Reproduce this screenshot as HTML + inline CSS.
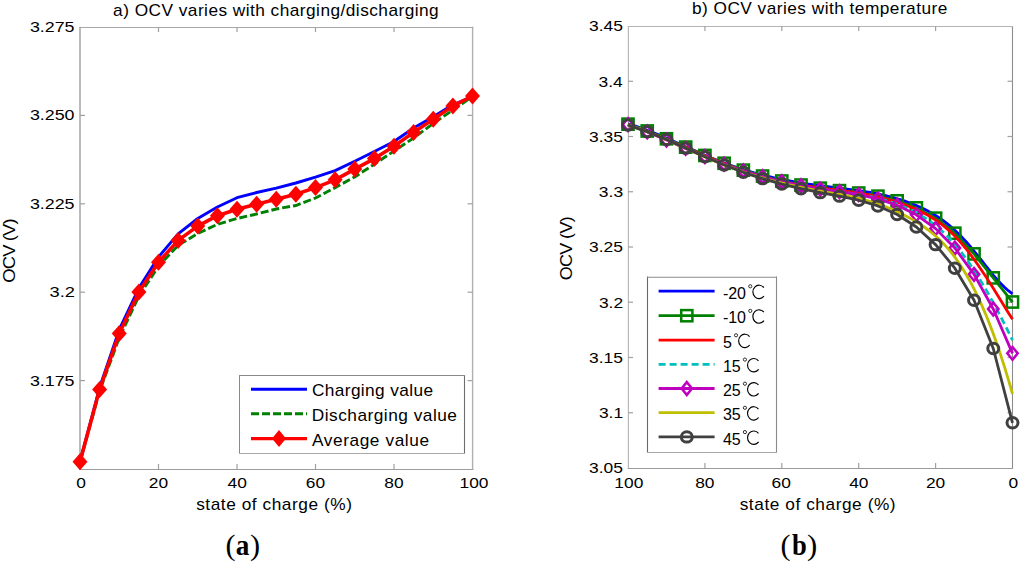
<!DOCTYPE html>
<html><head><meta charset="utf-8"><style>
html,body{margin:0;padding:0;background:#fff;}
body{width:1024px;height:563px;overflow:hidden;}
svg{display:block;}
</style></head><body>
<svg width="1024" height="563" viewBox="0 0 1024 563">
<rect width="1024" height="563" fill="#fff"/>
<line x1="80" y1="26.8" x2="80" y2="470" stroke="#a4a4a4" stroke-width="1.5"/>
<line x1="472.6" y1="26.8" x2="472.6" y2="470" stroke="#b0b0b0" stroke-width="1.4"/>
<line x1="79.3" y1="27.5" x2="473.3" y2="27.5" stroke="#a8a8a8" stroke-width="1.0"/>
<line x1="79.3" y1="469.5" x2="473.3" y2="469.5" stroke="#9c9c9c" stroke-width="1.1"/>
<line x1="158.50" y1="469" x2="158.50" y2="464" stroke="#a0a0a0" stroke-width="1.2"/>
<line x1="158.50" y1="27" x2="158.50" y2="32" stroke="#a0a0a0" stroke-width="1.2"/>
<line x1="237.00" y1="469" x2="237.00" y2="464" stroke="#a0a0a0" stroke-width="1.2"/>
<line x1="237.00" y1="27" x2="237.00" y2="32" stroke="#a0a0a0" stroke-width="1.2"/>
<line x1="315.50" y1="469" x2="315.50" y2="464" stroke="#a0a0a0" stroke-width="1.2"/>
<line x1="315.50" y1="27" x2="315.50" y2="32" stroke="#a0a0a0" stroke-width="1.2"/>
<line x1="394.00" y1="469" x2="394.00" y2="464" stroke="#a0a0a0" stroke-width="1.2"/>
<line x1="394.00" y1="27" x2="394.00" y2="32" stroke="#a0a0a0" stroke-width="1.2"/>
<line x1="80" y1="380.60" x2="85" y2="380.60" stroke="#a0a0a0" stroke-width="1.2"/>
<line x1="472.5" y1="380.60" x2="467.5" y2="380.60" stroke="#a0a0a0" stroke-width="1.2"/>
<line x1="80" y1="292.20" x2="85" y2="292.20" stroke="#a0a0a0" stroke-width="1.2"/>
<line x1="472.5" y1="292.20" x2="467.5" y2="292.20" stroke="#a0a0a0" stroke-width="1.2"/>
<line x1="80" y1="203.80" x2="85" y2="203.80" stroke="#a0a0a0" stroke-width="1.2"/>
<line x1="472.5" y1="203.80" x2="467.5" y2="203.80" stroke="#a0a0a0" stroke-width="1.2"/>
<line x1="80" y1="115.40" x2="85" y2="115.40" stroke="#a0a0a0" stroke-width="1.2"/>
<line x1="472.5" y1="115.40" x2="467.5" y2="115.40" stroke="#a0a0a0" stroke-width="1.2"/>
<polyline points="80.00,461.70 99.62,387.50 119.25,329.70 138.88,288.10 158.50,257.00 178.12,233.90 197.75,218.50 217.38,207.00 237.00,197.70 256.62,192.50 276.25,188.20 295.88,183.00 315.50,177.20 335.12,170.60 354.75,161.20 374.38,151.50 394.00,141.50 413.62,128.00 433.25,116.70 452.88,104.80 472.50,96.50" fill="none" stroke="#0000ff" stroke-width="2.9" stroke-linejoin="round"/>
<polyline points="80.00,461.70 99.62,391.00 119.25,337.80 138.88,296.20 158.50,266.20 178.12,245.40 197.75,233.50 217.38,224.30 237.00,218.50 256.62,214.00 276.25,209.00 295.88,205.50 315.50,198.00 335.12,187.60 354.75,176.90 374.38,164.20 394.00,151.00 413.62,138.00 433.25,123.50 452.88,110.00 472.50,96.50" fill="none" stroke="#008000" stroke-width="2.9" stroke-dasharray="8 3"/>
<polyline points="80.00,461.70 99.62,389.40 119.25,333.50 138.88,292.00 158.50,262.30 178.12,240.40 197.75,226.10 217.38,215.70 237.00,209.20 256.62,204.20 276.25,199.30 295.88,194.20 315.50,187.60 335.12,179.80 354.75,169.10 374.38,158.60 394.00,146.20 413.62,132.40 433.25,119.20 452.88,106.10 472.50,96.00" fill="none" stroke="#ff0000" stroke-width="3.6" stroke-linejoin="round"/>
<polygon points="80.00,453.20 87.50,461.70 80.00,470.20 72.50,461.70" fill="#ff0000"/>
<polygon points="99.62,380.90 107.12,389.40 99.62,397.90 92.12,389.40" fill="#ff0000"/>
<polygon points="119.25,325.00 126.75,333.50 119.25,342.00 111.75,333.50" fill="#ff0000"/>
<polygon points="138.88,283.50 146.38,292.00 138.88,300.50 131.38,292.00" fill="#ff0000"/>
<polygon points="158.50,253.80 166.00,262.30 158.50,270.80 151.00,262.30" fill="#ff0000"/>
<polygon points="178.12,231.90 185.62,240.40 178.12,248.90 170.62,240.40" fill="#ff0000"/>
<polygon points="197.75,217.60 205.25,226.10 197.75,234.60 190.25,226.10" fill="#ff0000"/>
<polygon points="217.38,207.20 224.88,215.70 217.38,224.20 209.88,215.70" fill="#ff0000"/>
<polygon points="237.00,200.70 244.50,209.20 237.00,217.70 229.50,209.20" fill="#ff0000"/>
<polygon points="256.62,195.70 264.12,204.20 256.62,212.70 249.12,204.20" fill="#ff0000"/>
<polygon points="276.25,190.80 283.75,199.30 276.25,207.80 268.75,199.30" fill="#ff0000"/>
<polygon points="295.88,185.70 303.38,194.20 295.88,202.70 288.38,194.20" fill="#ff0000"/>
<polygon points="315.50,179.10 323.00,187.60 315.50,196.10 308.00,187.60" fill="#ff0000"/>
<polygon points="335.12,171.30 342.62,179.80 335.12,188.30 327.62,179.80" fill="#ff0000"/>
<polygon points="354.75,160.60 362.25,169.10 354.75,177.60 347.25,169.10" fill="#ff0000"/>
<polygon points="374.38,150.10 381.88,158.60 374.38,167.10 366.88,158.60" fill="#ff0000"/>
<polygon points="394.00,137.70 401.50,146.20 394.00,154.70 386.50,146.20" fill="#ff0000"/>
<polygon points="413.62,123.90 421.12,132.40 413.62,140.90 406.12,132.40" fill="#ff0000"/>
<polygon points="433.25,110.70 440.75,119.20 433.25,127.70 425.75,119.20" fill="#ff0000"/>
<polygon points="452.88,97.60 460.38,106.10 452.88,114.60 445.38,106.10" fill="#ff0000"/>
<polygon points="472.50,87.50 480.00,96.00 472.50,104.50 465.00,96.00" fill="#ff0000"/>
<text transform="translate(29.89,32.00) scale(1.1517,1)" font-size="15.5" letter-spacing="0.000" font-family='"Liberation Sans", sans-serif' font-weight="normal" fill="#000" >3.275</text>
<text transform="translate(29.89,120.40) scale(1.1517,1)" font-size="15.5" letter-spacing="0.000" font-family='"Liberation Sans", sans-serif' font-weight="normal" fill="#000" >3.250</text>
<text transform="translate(29.89,208.80) scale(1.1517,1)" font-size="15.5" letter-spacing="0.000" font-family='"Liberation Sans", sans-serif' font-weight="normal" fill="#000" >3.225</text>
<text transform="translate(49.47,297.20) scale(1.1811,1)" font-size="15.5" letter-spacing="0.000" font-family='"Liberation Sans", sans-serif' font-weight="normal" fill="#000" >3.2</text>
<text transform="translate(29.89,385.60) scale(1.1517,1)" font-size="15.5" letter-spacing="0.000" font-family='"Liberation Sans", sans-serif' font-weight="normal" fill="#000" >3.175</text>
<text transform="translate(76.18,488.30) scale(1.1200,1)" font-size="15.5" letter-spacing="0.000" font-family='"Liberation Sans", sans-serif' font-weight="normal" fill="#000" >0</text>
<text transform="translate(148.78,488.30) scale(1.1200,1)" font-size="15.5" letter-spacing="0.000" font-family='"Liberation Sans", sans-serif' font-weight="normal" fill="#000" >20</text>
<text transform="translate(227.50,488.30) scale(1.1200,1)" font-size="15.5" letter-spacing="0.000" font-family='"Liberation Sans", sans-serif' font-weight="normal" fill="#000" >40</text>
<text transform="translate(305.78,488.30) scale(1.1200,1)" font-size="15.5" letter-spacing="0.000" font-family='"Liberation Sans", sans-serif' font-weight="normal" fill="#000" >60</text>
<text transform="translate(384.32,488.30) scale(1.1200,1)" font-size="15.5" letter-spacing="0.000" font-family='"Liberation Sans", sans-serif' font-weight="normal" fill="#000" >80</text>
<text transform="translate(459.54,488.30) scale(1.1200,1)" font-size="15.5" letter-spacing="0.000" font-family='"Liberation Sans", sans-serif' font-weight="normal" fill="#000" >100</text>
<text transform="translate(113.12,15.50) scale(1.0800,1)" font-size="16" letter-spacing="0.427" font-family='"Liberation Sans", sans-serif' font-weight="normal" fill="#000" >a) OCV varies with charging/discharging</text>
<text transform="translate(196.18,510.40) scale(1.0800,1)" font-size="16" letter-spacing="0.505" font-family='"Liberation Sans", sans-serif' font-weight="normal" fill="#000" >state of charge (%)</text>
<g transform="translate(14.9,0) rotate(-90)"><text transform="translate(-282.63,0.00) scale(1.0800,1)" font-size="17" letter-spacing="-0.800" font-family='"Liberation Sans", sans-serif' font-weight="normal" fill="#000" >OCV (V)</text></g>
<text transform="translate(225.54,554.90) scale(1.0521,1)" font-size="28.7" letter-spacing="0.000" font-family='"Liberation Serif", serif' font-weight="normal" fill="#000" >(</text>
<text transform="translate(235.78,554.60) scale(0.9397,1)" font-size="29" letter-spacing="0.000" font-family='"Liberation Serif", serif' font-weight="bold" fill="#000" >a</text>
<text transform="translate(249.99,554.90) scale(1.0587,1)" font-size="28.7" letter-spacing="0.000" font-family='"Liberation Serif", serif' font-weight="normal" fill="#000" >)</text>
<rect x="239.5" y="375.5" width="225" height="78" fill="#fff" stroke="none"/>
<line x1="239.5" y1="375" x2="239.5" y2="454" stroke="#8a8a8a" stroke-width="1"/>
<line x1="464.5" y1="375" x2="464.5" y2="454" stroke="#6e6e6e" stroke-width="1.1"/>
<line x1="239" y1="375.5" x2="465" y2="375.5" stroke="#8a8a8a" stroke-width="1"/>
<line x1="239" y1="453.5" x2="465" y2="453.5" stroke="#a8a8a8" stroke-width="1.1"/>
<line x1="251" y1="389.3" x2="307" y2="389.3" stroke="#0000ff" stroke-width="2.9"/>
<line x1="251" y1="413.7" x2="307" y2="413.7" stroke="#008000" stroke-width="2.9" stroke-dasharray="8 3"/>
<line x1="251" y1="438.6" x2="307" y2="438.6" stroke="#ff0000" stroke-width="3.2"/>
<polygon points="279.00,430.10 286.00,438.60 279.00,447.10 272.00,438.60" fill="#ff0000"/>
<text transform="translate(311.94,396.40) scale(1.0800,1)" font-size="16" letter-spacing="0.351" font-family='"Liberation Sans", sans-serif' font-weight="normal" fill="#000" >Charging value</text>
<text transform="translate(311.72,421.00) scale(1.0800,1)" font-size="16" letter-spacing="0.462" font-family='"Liberation Sans", sans-serif' font-weight="normal" fill="#000" >Discharging value</text>
<text transform="translate(311.91,445.50) scale(1.0800,1)" font-size="16" letter-spacing="0.548" font-family='"Liberation Sans", sans-serif' font-weight="normal" fill="#000" >Average value</text>
<line x1="628.4" y1="26" x2="628.4" y2="469" stroke="#b8b8b8" stroke-width="1.2"/>
<line x1="1012.5" y1="26" x2="1012.5" y2="469" stroke="#8c8c8c" stroke-width="1.1"/>
<line x1="627.8" y1="26.5" x2="1013" y2="26.5" stroke="#b4b4b4" stroke-width="1.0"/>
<line x1="627.8" y1="468.5" x2="1013" y2="468.5" stroke="#9c9c9c" stroke-width="1.1"/>
<line x1="935.60" y1="468" x2="935.60" y2="463" stroke="#a0a0a0" stroke-width="1.2"/>
<line x1="935.60" y1="26" x2="935.60" y2="31" stroke="#a0a0a0" stroke-width="1.2"/>
<line x1="858.70" y1="468" x2="858.70" y2="463" stroke="#a0a0a0" stroke-width="1.2"/>
<line x1="858.70" y1="26" x2="858.70" y2="31" stroke="#a0a0a0" stroke-width="1.2"/>
<line x1="781.80" y1="468" x2="781.80" y2="463" stroke="#a0a0a0" stroke-width="1.2"/>
<line x1="781.80" y1="26" x2="781.80" y2="31" stroke="#a0a0a0" stroke-width="1.2"/>
<line x1="704.90" y1="468" x2="704.90" y2="463" stroke="#a0a0a0" stroke-width="1.2"/>
<line x1="704.90" y1="26" x2="704.90" y2="31" stroke="#a0a0a0" stroke-width="1.2"/>
<line x1="628" y1="412.75" x2="633" y2="412.75" stroke="#a0a0a0" stroke-width="1.2"/>
<line x1="1012.5" y1="412.75" x2="1007.5" y2="412.75" stroke="#a0a0a0" stroke-width="1.2"/>
<line x1="628" y1="357.50" x2="633" y2="357.50" stroke="#a0a0a0" stroke-width="1.2"/>
<line x1="1012.5" y1="357.50" x2="1007.5" y2="357.50" stroke="#a0a0a0" stroke-width="1.2"/>
<line x1="628" y1="302.25" x2="633" y2="302.25" stroke="#a0a0a0" stroke-width="1.2"/>
<line x1="1012.5" y1="302.25" x2="1007.5" y2="302.25" stroke="#a0a0a0" stroke-width="1.2"/>
<line x1="628" y1="247.00" x2="633" y2="247.00" stroke="#a0a0a0" stroke-width="1.2"/>
<line x1="1012.5" y1="247.00" x2="1007.5" y2="247.00" stroke="#a0a0a0" stroke-width="1.2"/>
<line x1="628" y1="191.75" x2="633" y2="191.75" stroke="#a0a0a0" stroke-width="1.2"/>
<line x1="1012.5" y1="191.75" x2="1007.5" y2="191.75" stroke="#a0a0a0" stroke-width="1.2"/>
<line x1="628" y1="136.50" x2="633" y2="136.50" stroke="#a0a0a0" stroke-width="1.2"/>
<line x1="1012.5" y1="136.50" x2="1007.5" y2="136.50" stroke="#a0a0a0" stroke-width="1.2"/>
<line x1="628" y1="81.25" x2="633" y2="81.25" stroke="#a0a0a0" stroke-width="1.2"/>
<line x1="1012.5" y1="81.25" x2="1007.5" y2="81.25" stroke="#a0a0a0" stroke-width="1.2"/>
<polyline points="628.00,123.82 631.85,124.97 635.69,126.20 639.54,127.50 643.38,128.87 647.23,130.30 651.07,131.78 654.91,133.31 658.76,134.88 662.61,136.49 666.45,138.14 670.30,139.81 674.14,141.50 677.99,143.21 681.83,144.93 685.67,146.66 689.52,148.38 693.37,150.10 697.21,151.81 701.06,153.50 704.90,155.17 708.75,156.82 712.59,158.43 716.43,160.00 720.28,161.53 724.12,163.01 727.97,164.43 731.82,165.80 735.66,167.12 739.50,168.39 743.35,169.61 747.19,170.79 751.04,171.91 754.88,172.99 758.73,174.03 762.58,175.02 766.42,175.98 770.26,176.89 774.11,177.76 777.96,178.60 781.80,179.40 785.64,180.17 789.49,180.90 793.34,181.60 797.18,182.28 801.02,182.92 804.87,183.53 808.72,184.12 812.56,184.69 816.40,185.23 820.25,185.74 824.10,186.24 827.94,186.72 831.78,187.19 835.63,187.66 839.48,188.12 843.32,188.59 847.16,189.08 851.01,189.57 854.86,190.09 858.70,190.64 862.54,191.22 866.39,191.83 870.24,192.49 874.08,193.19 877.92,193.95 881.77,194.76 885.62,195.64 889.46,196.59 893.31,197.61 897.15,198.72 901.00,199.90 904.84,201.18 908.68,202.55 912.53,204.02 916.38,205.60 920.22,207.29 924.07,209.11 927.91,211.07 931.75,213.19 935.60,215.49 939.44,217.98 943.29,220.68 947.13,223.61 950.98,226.78 954.83,230.21 958.67,233.90 962.51,237.85 966.36,242.04 970.21,246.44 974.05,251.04 977.89,255.81 981.74,260.68 985.59,265.57 989.43,270.40 993.27,275.10 997.12,279.58 1000.97,283.78 1004.81,287.61 1008.65,290.99 1012.50,293.85" fill="none" stroke="#0000ff" stroke-width="2.8" stroke-linejoin="round"/>
<polyline points="628.00,124.19 647.23,130.98 666.45,138.79 685.67,147.12 704.90,155.44 724.12,163.26 743.35,170.15 762.58,176.05 781.80,181.00 801.02,185.04 820.25,188.20 839.48,190.64 858.70,193.04 877.92,196.18 897.15,200.86 916.38,207.87 935.60,218.16 954.83,233.22 974.05,253.90 993.27,277.88 1012.50,302.02" fill="none" stroke="#008000" stroke-width="2.8" stroke-linejoin="round"/>
<rect x="622.40" y="118.59" width="11.2" height="11.2" fill="none" stroke="#008000" stroke-width="2.5"/>
<rect x="641.62" y="125.38" width="11.2" height="11.2" fill="none" stroke="#008000" stroke-width="2.5"/>
<rect x="660.85" y="133.19" width="11.2" height="11.2" fill="none" stroke="#008000" stroke-width="2.5"/>
<rect x="680.07" y="141.52" width="11.2" height="11.2" fill="none" stroke="#008000" stroke-width="2.5"/>
<rect x="699.30" y="149.84" width="11.2" height="11.2" fill="none" stroke="#008000" stroke-width="2.5"/>
<rect x="718.52" y="157.66" width="11.2" height="11.2" fill="none" stroke="#008000" stroke-width="2.5"/>
<rect x="737.75" y="164.55" width="11.2" height="11.2" fill="none" stroke="#008000" stroke-width="2.5"/>
<rect x="756.98" y="170.45" width="11.2" height="11.2" fill="none" stroke="#008000" stroke-width="2.5"/>
<rect x="776.20" y="175.40" width="11.2" height="11.2" fill="none" stroke="#008000" stroke-width="2.5"/>
<rect x="795.42" y="179.44" width="11.2" height="11.2" fill="none" stroke="#008000" stroke-width="2.5"/>
<rect x="814.65" y="182.60" width="11.2" height="11.2" fill="none" stroke="#008000" stroke-width="2.5"/>
<rect x="833.88" y="185.04" width="11.2" height="11.2" fill="none" stroke="#008000" stroke-width="2.5"/>
<rect x="853.10" y="187.44" width="11.2" height="11.2" fill="none" stroke="#008000" stroke-width="2.5"/>
<rect x="872.32" y="190.58" width="11.2" height="11.2" fill="none" stroke="#008000" stroke-width="2.5"/>
<rect x="891.55" y="195.26" width="11.2" height="11.2" fill="none" stroke="#008000" stroke-width="2.5"/>
<rect x="910.77" y="202.27" width="11.2" height="11.2" fill="none" stroke="#008000" stroke-width="2.5"/>
<rect x="930.00" y="212.56" width="11.2" height="11.2" fill="none" stroke="#008000" stroke-width="2.5"/>
<rect x="949.23" y="227.62" width="11.2" height="11.2" fill="none" stroke="#008000" stroke-width="2.5"/>
<rect x="968.45" y="248.30" width="11.2" height="11.2" fill="none" stroke="#008000" stroke-width="2.5"/>
<rect x="987.67" y="272.28" width="11.2" height="11.2" fill="none" stroke="#008000" stroke-width="2.5"/>
<rect x="1006.90" y="296.42" width="11.2" height="11.2" fill="none" stroke="#008000" stroke-width="2.5"/>
<polyline points="628.00,124.61 631.85,125.94 635.69,127.31 639.54,128.71 643.38,130.15 647.23,131.62 651.07,133.13 654.91,134.65 658.76,136.20 662.61,137.78 666.45,139.37 670.30,140.98 674.14,142.60 677.99,144.23 681.83,145.87 685.67,147.52 689.52,149.16 693.37,150.81 697.21,152.46 701.06,154.10 704.90,155.73 708.75,157.35 712.59,158.96 716.43,160.55 720.28,162.13 724.12,163.68 727.97,165.20 731.82,166.70 735.66,168.17 739.50,169.60 743.35,170.99 747.19,172.33 751.04,173.62 754.88,174.85 758.73,176.03 762.58,177.14 766.42,178.18 770.26,179.16 774.11,180.08 777.96,180.94 781.80,181.75 785.64,182.52 789.49,183.23 793.34,183.91 797.18,184.55 801.02,185.15 804.87,185.73 808.72,186.28 812.56,186.81 816.40,187.33 820.25,187.83 824.10,188.32 827.94,188.81 831.78,189.30 835.63,189.79 839.48,190.30 843.32,190.81 847.16,191.35 851.01,191.91 854.86,192.50 858.70,193.12 862.54,193.78 866.39,194.48 870.24,195.23 874.08,196.03 877.92,196.88 881.77,197.80 885.62,198.78 889.46,199.83 893.31,200.95 897.15,202.16 901.00,203.45 904.84,204.82 908.68,206.29 912.53,207.86 916.38,209.53 920.22,211.31 924.07,213.23 927.91,215.30 931.75,217.55 935.60,220.01 939.44,222.71 943.29,225.65 947.13,228.86 950.98,232.34 954.83,236.11 958.67,240.19 962.51,244.56 966.36,249.22 970.21,254.14 974.05,259.34 977.89,264.77 981.74,270.43 985.59,276.27 989.43,282.26 993.27,288.36 997.12,294.53 1000.97,300.75 1004.81,306.97 1008.65,313.17 1012.50,319.30" fill="none" stroke="#ff0000" stroke-width="2.8" stroke-linejoin="round"/>
<polyline points="628.00,125.11 631.85,126.31 635.69,127.58 639.54,128.91 643.38,130.30 647.23,131.74 651.07,133.23 654.91,134.76 658.76,136.33 662.61,137.94 666.45,139.57 670.30,141.23 674.14,142.91 677.99,144.60 681.83,146.31 685.67,148.02 689.52,149.73 693.37,151.44 697.21,153.14 701.06,154.83 704.90,156.50 708.75,158.15 712.59,159.77 716.43,161.36 720.28,162.92 724.12,164.43 727.97,165.90 731.82,167.33 735.66,168.71 739.50,170.05 743.35,171.34 747.19,172.59 751.04,173.80 754.88,174.97 758.73,176.10 762.58,177.19 766.42,178.24 770.26,179.26 774.11,180.23 777.96,181.17 781.80,182.07 785.64,182.93 789.49,183.76 793.34,184.55 797.18,185.31 801.02,186.04 804.87,186.73 808.72,187.40 812.56,188.03 816.40,188.63 820.25,189.19 824.10,189.73 827.94,190.25 831.78,190.75 835.63,191.25 839.48,191.74 843.32,192.25 847.16,192.76 851.01,193.30 854.86,193.86 858.70,194.47 862.54,195.11 866.39,195.81 870.24,196.56 874.08,197.38 877.92,198.28 881.77,199.25 885.62,200.31 889.46,201.46 893.31,202.72 897.15,204.09 901.00,205.57 904.84,207.18 908.68,208.91 912.53,210.79 916.38,212.81 920.22,214.99 924.07,217.34 927.91,219.87 931.75,222.61 935.60,225.57 939.44,228.76 943.29,232.21 947.13,235.93 950.98,239.94 954.83,244.25 958.67,248.88 962.51,253.81 966.36,259.04 970.21,264.56 974.05,270.34 977.89,276.37 981.74,282.65 985.59,289.16 989.43,295.88 993.27,302.81 997.12,309.93 1000.97,317.22 1004.81,324.68 1008.65,332.29 1012.50,340.03" fill="none" stroke="#00bfbf" stroke-width="2.8" stroke-linejoin="round" stroke-dasharray="7 4"/>
<polyline points="628.00,124.56 647.23,131.98 666.45,140.04 685.67,148.35 704.90,156.50 724.12,164.11 743.35,170.84 762.58,176.65 781.80,181.60 801.02,185.71 820.25,189.02 839.48,191.74 858.70,194.68 877.92,198.85 897.15,205.22 916.38,214.80 935.60,228.62 954.83,248.01 974.05,274.35 993.27,309.00 1012.50,353.35" fill="none" stroke="#bf00bf" stroke-width="2.8" stroke-linejoin="round"/>
<polygon points="628.00,118.16 633.20,124.56 628.00,130.96 622.80,124.56" fill="none" stroke="#bf00bf" stroke-width="2.5"/>
<polygon points="647.23,125.58 652.43,131.98 647.23,138.38 642.02,131.98" fill="none" stroke="#bf00bf" stroke-width="2.5"/>
<polygon points="666.45,133.64 671.65,140.04 666.45,146.44 661.25,140.04" fill="none" stroke="#bf00bf" stroke-width="2.5"/>
<polygon points="685.67,141.95 690.88,148.35 685.67,154.75 680.47,148.35" fill="none" stroke="#bf00bf" stroke-width="2.5"/>
<polygon points="704.90,150.10 710.10,156.50 704.90,162.90 699.70,156.50" fill="none" stroke="#bf00bf" stroke-width="2.5"/>
<polygon points="724.12,157.71 729.33,164.11 724.12,170.51 718.92,164.11" fill="none" stroke="#bf00bf" stroke-width="2.5"/>
<polygon points="743.35,164.44 748.55,170.84 743.35,177.24 738.15,170.84" fill="none" stroke="#bf00bf" stroke-width="2.5"/>
<polygon points="762.58,170.25 767.78,176.65 762.58,183.05 757.38,176.65" fill="none" stroke="#bf00bf" stroke-width="2.5"/>
<polygon points="781.80,175.20 787.00,181.60 781.80,188.00 776.60,181.60" fill="none" stroke="#bf00bf" stroke-width="2.5"/>
<polygon points="801.02,179.31 806.23,185.71 801.02,192.11 795.82,185.71" fill="none" stroke="#bf00bf" stroke-width="2.5"/>
<polygon points="820.25,182.62 825.45,189.02 820.25,195.42 815.05,189.02" fill="none" stroke="#bf00bf" stroke-width="2.5"/>
<polygon points="839.48,185.34 844.68,191.74 839.48,198.14 834.27,191.74" fill="none" stroke="#bf00bf" stroke-width="2.5"/>
<polygon points="858.70,188.28 863.90,194.68 858.70,201.08 853.50,194.68" fill="none" stroke="#bf00bf" stroke-width="2.5"/>
<polygon points="877.92,192.45 883.12,198.85 877.92,205.25 872.72,198.85" fill="none" stroke="#bf00bf" stroke-width="2.5"/>
<polygon points="897.15,198.82 902.35,205.22 897.15,211.62 891.95,205.22" fill="none" stroke="#bf00bf" stroke-width="2.5"/>
<polygon points="916.38,208.40 921.58,214.80 916.38,221.20 911.17,214.80" fill="none" stroke="#bf00bf" stroke-width="2.5"/>
<polygon points="935.60,222.22 940.80,228.62 935.60,235.02 930.40,228.62" fill="none" stroke="#bf00bf" stroke-width="2.5"/>
<polygon points="954.83,241.61 960.03,248.01 954.83,254.41 949.62,248.01" fill="none" stroke="#bf00bf" stroke-width="2.5"/>
<polygon points="974.05,267.95 979.25,274.35 974.05,280.75 968.85,274.35" fill="none" stroke="#bf00bf" stroke-width="2.5"/>
<polygon points="993.27,302.60 998.48,309.00 993.27,315.40 988.07,309.00" fill="none" stroke="#bf00bf" stroke-width="2.5"/>
<polygon points="1012.50,346.95 1017.70,353.35 1012.50,359.75 1007.30,353.35" fill="none" stroke="#bf00bf" stroke-width="2.5"/>
<polyline points="628.00,125.13 631.85,126.31 635.69,127.56 639.54,128.88 643.38,130.26 647.23,131.70 651.07,133.20 654.91,134.74 658.76,136.33 662.61,137.95 666.45,139.60 670.30,141.29 674.14,142.99 677.99,144.72 681.83,146.45 685.67,148.20 689.52,149.94 693.37,151.69 697.21,153.42 701.06,155.15 704.90,156.85 708.75,158.53 712.59,160.19 716.43,161.81 720.28,163.40 724.12,164.94 727.97,166.44 731.82,167.88 735.66,169.29 739.50,170.65 743.35,171.96 747.19,173.24 751.04,174.47 754.88,175.67 758.73,176.82 762.58,177.94 766.42,179.02 770.26,180.07 774.11,181.09 777.96,182.07 781.80,183.02 785.64,183.94 789.49,184.83 793.34,185.70 797.18,186.53 801.02,187.35 804.87,188.13 808.72,188.90 812.56,189.64 816.40,190.37 820.25,191.07 824.10,191.76 827.94,192.43 831.78,193.11 835.63,193.79 839.48,194.49 843.32,195.20 847.16,195.95 851.01,196.74 854.86,197.58 858.70,198.47 862.54,199.43 866.39,200.46 870.24,201.55 874.08,202.73 877.92,203.98 881.77,205.33 885.62,206.76 889.46,208.28 893.31,209.90 897.15,211.63 901.00,213.46 904.84,215.40 908.68,217.46 912.53,219.64 916.38,221.94 920.22,224.37 924.07,226.97 927.91,229.75 931.75,232.75 935.60,236.00 939.44,239.54 943.29,243.39 947.13,247.58 950.98,252.15 954.83,257.12 958.67,262.53 962.51,268.40 966.36,274.73 970.21,281.56 974.05,288.89 977.89,296.75 981.74,305.14 985.59,314.10 989.43,323.64 993.27,333.77 997.12,344.51 1000.97,355.88 1004.81,367.89 1008.65,380.57 1012.50,393.94" fill="none" stroke="#bfbf00" stroke-width="2.8" stroke-linejoin="round"/>
<polyline points="628.00,125.06 647.23,131.65 666.45,139.53 685.67,148.11 704.90,156.81 724.12,165.03 743.35,172.31 762.58,178.62 781.80,184.06 801.02,188.71 820.25,192.65 839.48,196.17 858.70,200.22 877.92,205.95 897.15,214.51 916.38,227.04 935.60,244.63 954.83,268.24 974.05,300.18 993.27,348.52 1012.50,422.78" fill="none" stroke="#404040" stroke-width="2.8" stroke-linejoin="round"/>
<ellipse cx="628.00" cy="125.06" rx="5.5" ry="5.2" fill="none" stroke="#404040" stroke-width="3"/>
<ellipse cx="647.23" cy="131.65" rx="5.5" ry="5.2" fill="none" stroke="#404040" stroke-width="3"/>
<ellipse cx="666.45" cy="139.53" rx="5.5" ry="5.2" fill="none" stroke="#404040" stroke-width="3"/>
<ellipse cx="685.67" cy="148.11" rx="5.5" ry="5.2" fill="none" stroke="#404040" stroke-width="3"/>
<ellipse cx="704.90" cy="156.81" rx="5.5" ry="5.2" fill="none" stroke="#404040" stroke-width="3"/>
<ellipse cx="724.12" cy="165.03" rx="5.5" ry="5.2" fill="none" stroke="#404040" stroke-width="3"/>
<ellipse cx="743.35" cy="172.31" rx="5.5" ry="5.2" fill="none" stroke="#404040" stroke-width="3"/>
<ellipse cx="762.58" cy="178.62" rx="5.5" ry="5.2" fill="none" stroke="#404040" stroke-width="3"/>
<ellipse cx="781.80" cy="184.06" rx="5.5" ry="5.2" fill="none" stroke="#404040" stroke-width="3"/>
<ellipse cx="801.02" cy="188.71" rx="5.5" ry="5.2" fill="none" stroke="#404040" stroke-width="3"/>
<ellipse cx="820.25" cy="192.65" rx="5.5" ry="5.2" fill="none" stroke="#404040" stroke-width="3"/>
<ellipse cx="839.48" cy="196.17" rx="5.5" ry="5.2" fill="none" stroke="#404040" stroke-width="3"/>
<ellipse cx="858.70" cy="200.22" rx="5.5" ry="5.2" fill="none" stroke="#404040" stroke-width="3"/>
<ellipse cx="877.92" cy="205.95" rx="5.5" ry="5.2" fill="none" stroke="#404040" stroke-width="3"/>
<ellipse cx="897.15" cy="214.51" rx="5.5" ry="5.2" fill="none" stroke="#404040" stroke-width="3"/>
<ellipse cx="916.38" cy="227.04" rx="5.5" ry="5.2" fill="none" stroke="#404040" stroke-width="3"/>
<ellipse cx="935.60" cy="244.63" rx="5.5" ry="5.2" fill="none" stroke="#404040" stroke-width="3"/>
<ellipse cx="954.83" cy="268.24" rx="5.5" ry="5.2" fill="none" stroke="#404040" stroke-width="3"/>
<ellipse cx="974.05" cy="300.18" rx="5.5" ry="5.2" fill="none" stroke="#404040" stroke-width="3"/>
<ellipse cx="993.27" cy="348.52" rx="5.5" ry="5.2" fill="none" stroke="#404040" stroke-width="3"/>
<ellipse cx="1012.50" cy="422.78" rx="5.5" ry="5.2" fill="none" stroke="#404040" stroke-width="3"/>
<text transform="translate(589.08,473.30) scale(1.1250,1)" font-size="15.5" letter-spacing="0.000" font-family='"Liberation Sans", sans-serif' font-weight="normal" fill="#000" >3.05</text>
<text transform="translate(598.93,418.05) scale(1.1250,1)" font-size="15.5" letter-spacing="0.000" font-family='"Liberation Sans", sans-serif' font-weight="normal" fill="#000" >3.1</text>
<text transform="translate(589.08,362.80) scale(1.1250,1)" font-size="15.5" letter-spacing="0.000" font-family='"Liberation Sans", sans-serif' font-weight="normal" fill="#000" >3.15</text>
<text transform="translate(598.93,307.55) scale(1.1250,1)" font-size="15.5" letter-spacing="0.000" font-family='"Liberation Sans", sans-serif' font-weight="normal" fill="#000" >3.2</text>
<text transform="translate(589.08,252.30) scale(1.1250,1)" font-size="15.5" letter-spacing="0.000" font-family='"Liberation Sans", sans-serif' font-weight="normal" fill="#000" >3.25</text>
<text transform="translate(598.85,197.05) scale(1.1250,1)" font-size="15.5" letter-spacing="0.000" font-family='"Liberation Sans", sans-serif' font-weight="normal" fill="#000" >3.3</text>
<text transform="translate(589.08,141.80) scale(1.1250,1)" font-size="15.5" letter-spacing="0.000" font-family='"Liberation Sans", sans-serif' font-weight="normal" fill="#000" >3.35</text>
<text transform="translate(598.58,86.55) scale(1.1250,1)" font-size="15.5" letter-spacing="0.000" font-family='"Liberation Sans", sans-serif' font-weight="normal" fill="#000" >3.4</text>
<text transform="translate(589.08,31.30) scale(1.1250,1)" font-size="15.5" letter-spacing="0.000" font-family='"Liberation Sans", sans-serif' font-weight="normal" fill="#000" >3.45</text>
<text transform="translate(614.34,488.20) scale(1.1200,1)" font-size="15.5" letter-spacing="0.000" font-family='"Liberation Sans", sans-serif' font-weight="normal" fill="#000" >100</text>
<text transform="translate(695.22,488.20) scale(1.1200,1)" font-size="15.5" letter-spacing="0.000" font-family='"Liberation Sans", sans-serif' font-weight="normal" fill="#000" >80</text>
<text transform="translate(771.58,488.20) scale(1.1200,1)" font-size="15.5" letter-spacing="0.000" font-family='"Liberation Sans", sans-serif' font-weight="normal" fill="#000" >60</text>
<text transform="translate(849.20,488.20) scale(1.1200,1)" font-size="15.5" letter-spacing="0.000" font-family='"Liberation Sans", sans-serif' font-weight="normal" fill="#000" >40</text>
<text transform="translate(925.88,488.20) scale(1.1200,1)" font-size="15.5" letter-spacing="0.000" font-family='"Liberation Sans", sans-serif' font-weight="normal" fill="#000" >20</text>
<text transform="translate(1008.58,488.20) scale(1.1200,1)" font-size="15.5" letter-spacing="0.000" font-family='"Liberation Sans", sans-serif' font-weight="normal" fill="#000" >0</text>
<text transform="translate(691.98,14.40) scale(1.0800,1)" font-size="16" letter-spacing="0.431" font-family='"Liberation Sans", sans-serif' font-weight="normal" fill="#000" >b) OCV varies with temperature</text>
<text transform="translate(739.68,510.20) scale(1.0800,1)" font-size="16" letter-spacing="0.516" font-family='"Liberation Sans", sans-serif' font-weight="normal" fill="#000" >state of charge (%)</text>
<g transform="translate(572.4,0) rotate(-90)"><text transform="translate(-280.31,0.00) scale(1.0800,1)" font-size="16.6" letter-spacing="-0.555" font-family='"Liberation Sans", sans-serif' font-weight="normal" fill="#000" >OCV (V)</text></g>
<text transform="translate(780.54,554.90) scale(1.0521,1)" font-size="28.7" letter-spacing="0.000" font-family='"Liberation Serif", serif' font-weight="normal" fill="#000" >(</text>
<text transform="translate(792.10,554.60) scale(0.9172,1)" font-size="29" letter-spacing="0.000" font-family='"Liberation Serif", serif' font-weight="bold" fill="#000" >b</text>
<text transform="translate(806.88,554.90) scale(1.0721,1)" font-size="28.7" letter-spacing="0.000" font-family='"Liberation Serif", serif' font-weight="normal" fill="#000" >)</text>
<rect x="647.6" y="277" width="128.8" height="175.5" fill="#fff" stroke="none"/>
<line x1="647.5" y1="276.5" x2="647.5" y2="453" stroke="#6a6a6a" stroke-width="1.1"/>
<line x1="776.5" y1="276.5" x2="776.5" y2="453" stroke="#8a8a8a" stroke-width="1.1"/>
<line x1="647" y1="277.2" x2="777" y2="277.2" stroke="#8a8a8a" stroke-width="1.1"/>
<line x1="647" y1="452.5" x2="777" y2="452.5" stroke="#a8a8a8" stroke-width="1.1"/>
<line x1="658.6" y1="291.1" x2="714.6" y2="291.1" stroke="#0000ff" stroke-width="2.8"/>
<text x="722.90" y="298.80" font-size="16.0" font-family='"Liberation Sans", sans-serif' fill="#000">-20</text>
<circle cx="750.28" cy="286.30" r="1.6" fill="none" stroke="#000" stroke-width="0.8"/>
<path d="M763.83,287.59 A6.2,6.7 0 1 0 763.97,296.02" fill="none" stroke="#000" stroke-width="1.15"/>
<line x1="658.6" y1="315.7" x2="714.6" y2="315.7" stroke="#008000" stroke-width="2.8"/>
<rect x="681.20" y="310.10" width="11.2" height="11.2" fill="none" stroke="#008000" stroke-width="2.5"/>
<text x="722.90" y="323.40" font-size="16.0" font-family='"Liberation Sans", sans-serif' fill="#000">-10</text>
<circle cx="750.28" cy="310.90" r="1.6" fill="none" stroke="#000" stroke-width="0.8"/>
<path d="M763.83,312.19 A6.2,6.7 0 1 0 763.97,320.62" fill="none" stroke="#000" stroke-width="1.15"/>
<line x1="658.6" y1="340.1" x2="714.6" y2="340.1" stroke="#ff0000" stroke-width="2.8"/>
<text x="722.90" y="347.80" font-size="16.0" font-family='"Liberation Sans", sans-serif' fill="#000">5</text>
<circle cx="736.04" cy="335.30" r="1.6" fill="none" stroke="#000" stroke-width="0.8"/>
<path d="M749.59,336.59 A6.2,6.7 0 1 0 749.73,345.02" fill="none" stroke="#000" stroke-width="1.15"/>
<line x1="658.6" y1="364.4" x2="714.6" y2="364.4" stroke="#00bfbf" stroke-width="2.8" stroke-dasharray="7 4"/>
<text x="722.90" y="372.10" font-size="16.0" font-family='"Liberation Sans", sans-serif' fill="#000">15</text>
<circle cx="744.92" cy="359.60" r="1.6" fill="none" stroke="#000" stroke-width="0.8"/>
<path d="M758.47,360.89 A6.2,6.7 0 1 0 758.61,369.32" fill="none" stroke="#000" stroke-width="1.15"/>
<line x1="658.6" y1="388.5" x2="714.6" y2="388.5" stroke="#bf00bf" stroke-width="2.8"/>
<polygon points="686.80,382.10 692.00,388.50 686.80,394.90 681.60,388.50" fill="none" stroke="#bf00bf" stroke-width="2.5"/>
<text x="722.90" y="396.20" font-size="16.0" font-family='"Liberation Sans", sans-serif' fill="#000">25</text>
<circle cx="744.92" cy="383.70" r="1.6" fill="none" stroke="#000" stroke-width="0.8"/>
<path d="M758.47,384.99 A6.2,6.7 0 1 0 758.61,393.42" fill="none" stroke="#000" stroke-width="1.15"/>
<line x1="658.6" y1="412.6" x2="714.6" y2="412.6" stroke="#bfbf00" stroke-width="2.8"/>
<text x="722.90" y="420.30" font-size="16.0" font-family='"Liberation Sans", sans-serif' fill="#000">35</text>
<circle cx="744.92" cy="407.80" r="1.6" fill="none" stroke="#000" stroke-width="0.8"/>
<path d="M758.47,409.09 A6.2,6.7 0 1 0 758.61,417.52" fill="none" stroke="#000" stroke-width="1.15"/>
<line x1="658.6" y1="436.9" x2="714.6" y2="436.9" stroke="#404040" stroke-width="2.8"/>
<ellipse cx="686.80" cy="436.90" rx="5.5" ry="5.2" fill="none" stroke="#404040" stroke-width="3"/>
<text x="722.90" y="444.60" font-size="16.0" font-family='"Liberation Sans", sans-serif' fill="#000">45</text>
<circle cx="744.92" cy="432.10" r="1.6" fill="none" stroke="#000" stroke-width="0.8"/>
<path d="M758.47,433.39 A6.2,6.7 0 1 0 758.61,441.82" fill="none" stroke="#000" stroke-width="1.15"/>
</svg>
</body></html>
